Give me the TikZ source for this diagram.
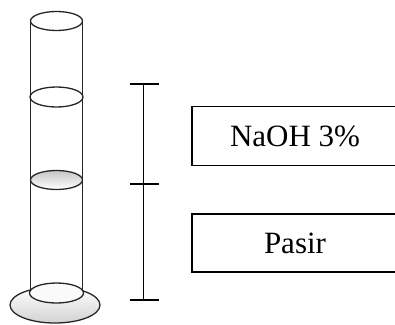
\documentclass[tikz,border=0pt]{standalone}
\usepackage{fontspec}
\setmainfont{Liberation Serif}
\usetikzlibrary{positioning,calc}

\begin{document}
\begin{tikzpicture}[
		x=1pt, y=-1pt,
		% duong vien ong dong
		glass/.style={draw=black!85, line width=1.3pt},
		% vach chia muc
		mark_fill/.style={glass, top color=gray!45, bottom color=white},
		% de ong
		base_fill/.style={glass, top color=white, bottom color=gray!35},
		% thuoc do chieu cao
		bar/.style={draw=black, line width=1.1pt},
		% hop nhan (canh phai nam ngoai khung)
		labelbox/.style={
			draw=black, line width=1.1pt,
			minimum width=230pt, minimum height=59pt,
			inner sep=0pt
		},
		% chu trong hop
		labeltext/.style={font=\fontsize{31}{34}\selectfont, inner sep=0pt}
	]
	\useasboundingbox (0,0) rectangle (395,324);
	\clip (0,0) rectangle (395,324);

	% --- De ong ---
	\path[base_fill] (55,305) ellipse [x radius=45, y radius=18];

	% --- Than ong dong ---
	\coordinate (top) at (56.5,21);
	\coordinate (bot) at (56.5,293);
	\draw[glass] ($(top)+(-26,0)$) -- ($(bot)+(-26,0)$);
	\draw[glass] ($(top)+(26,0)$) -- ($(bot)+(26,0)$);
	\draw[glass, fill=white!96!gray] (bot) ellipse [x radius=27, y radius=10];
	\draw[glass] (top) ellipse [x radius=26, y radius=9.5];

	% --- Cac muc ---
	\draw[glass] (56.5,97) ellipse [x radius=26.5, y radius=10];
	\path[mark_fill] (56.5,180) ellipse [x radius=26, y radius=9.5];

	% --- Thuoc do ---
	\coordinate (t1) at (143.5,84);
	\coordinate (t2) at (143.5,184);
	\coordinate (t3) at (143.5,300);
	\draw[bar] (t1) -- (t3);
	\foreach \t in {t1,t2,t3}
		\draw[bar] ($(\t)+(-14,0)$) -- ($(\t)+(15,0)$);

	% --- Nhan ---
	\node[labelbox] (naohbox) at (307,136) {};
	\node[labeltext] (naoh) at (295,136) {NaOH 3\%};
	\node[labelbox, minimum height=58pt] (pasirbox) at (307,243) {};
	\node[labeltext] (pasir) at (295,243) {Pasir};

\end{tikzpicture}
\end{document}
